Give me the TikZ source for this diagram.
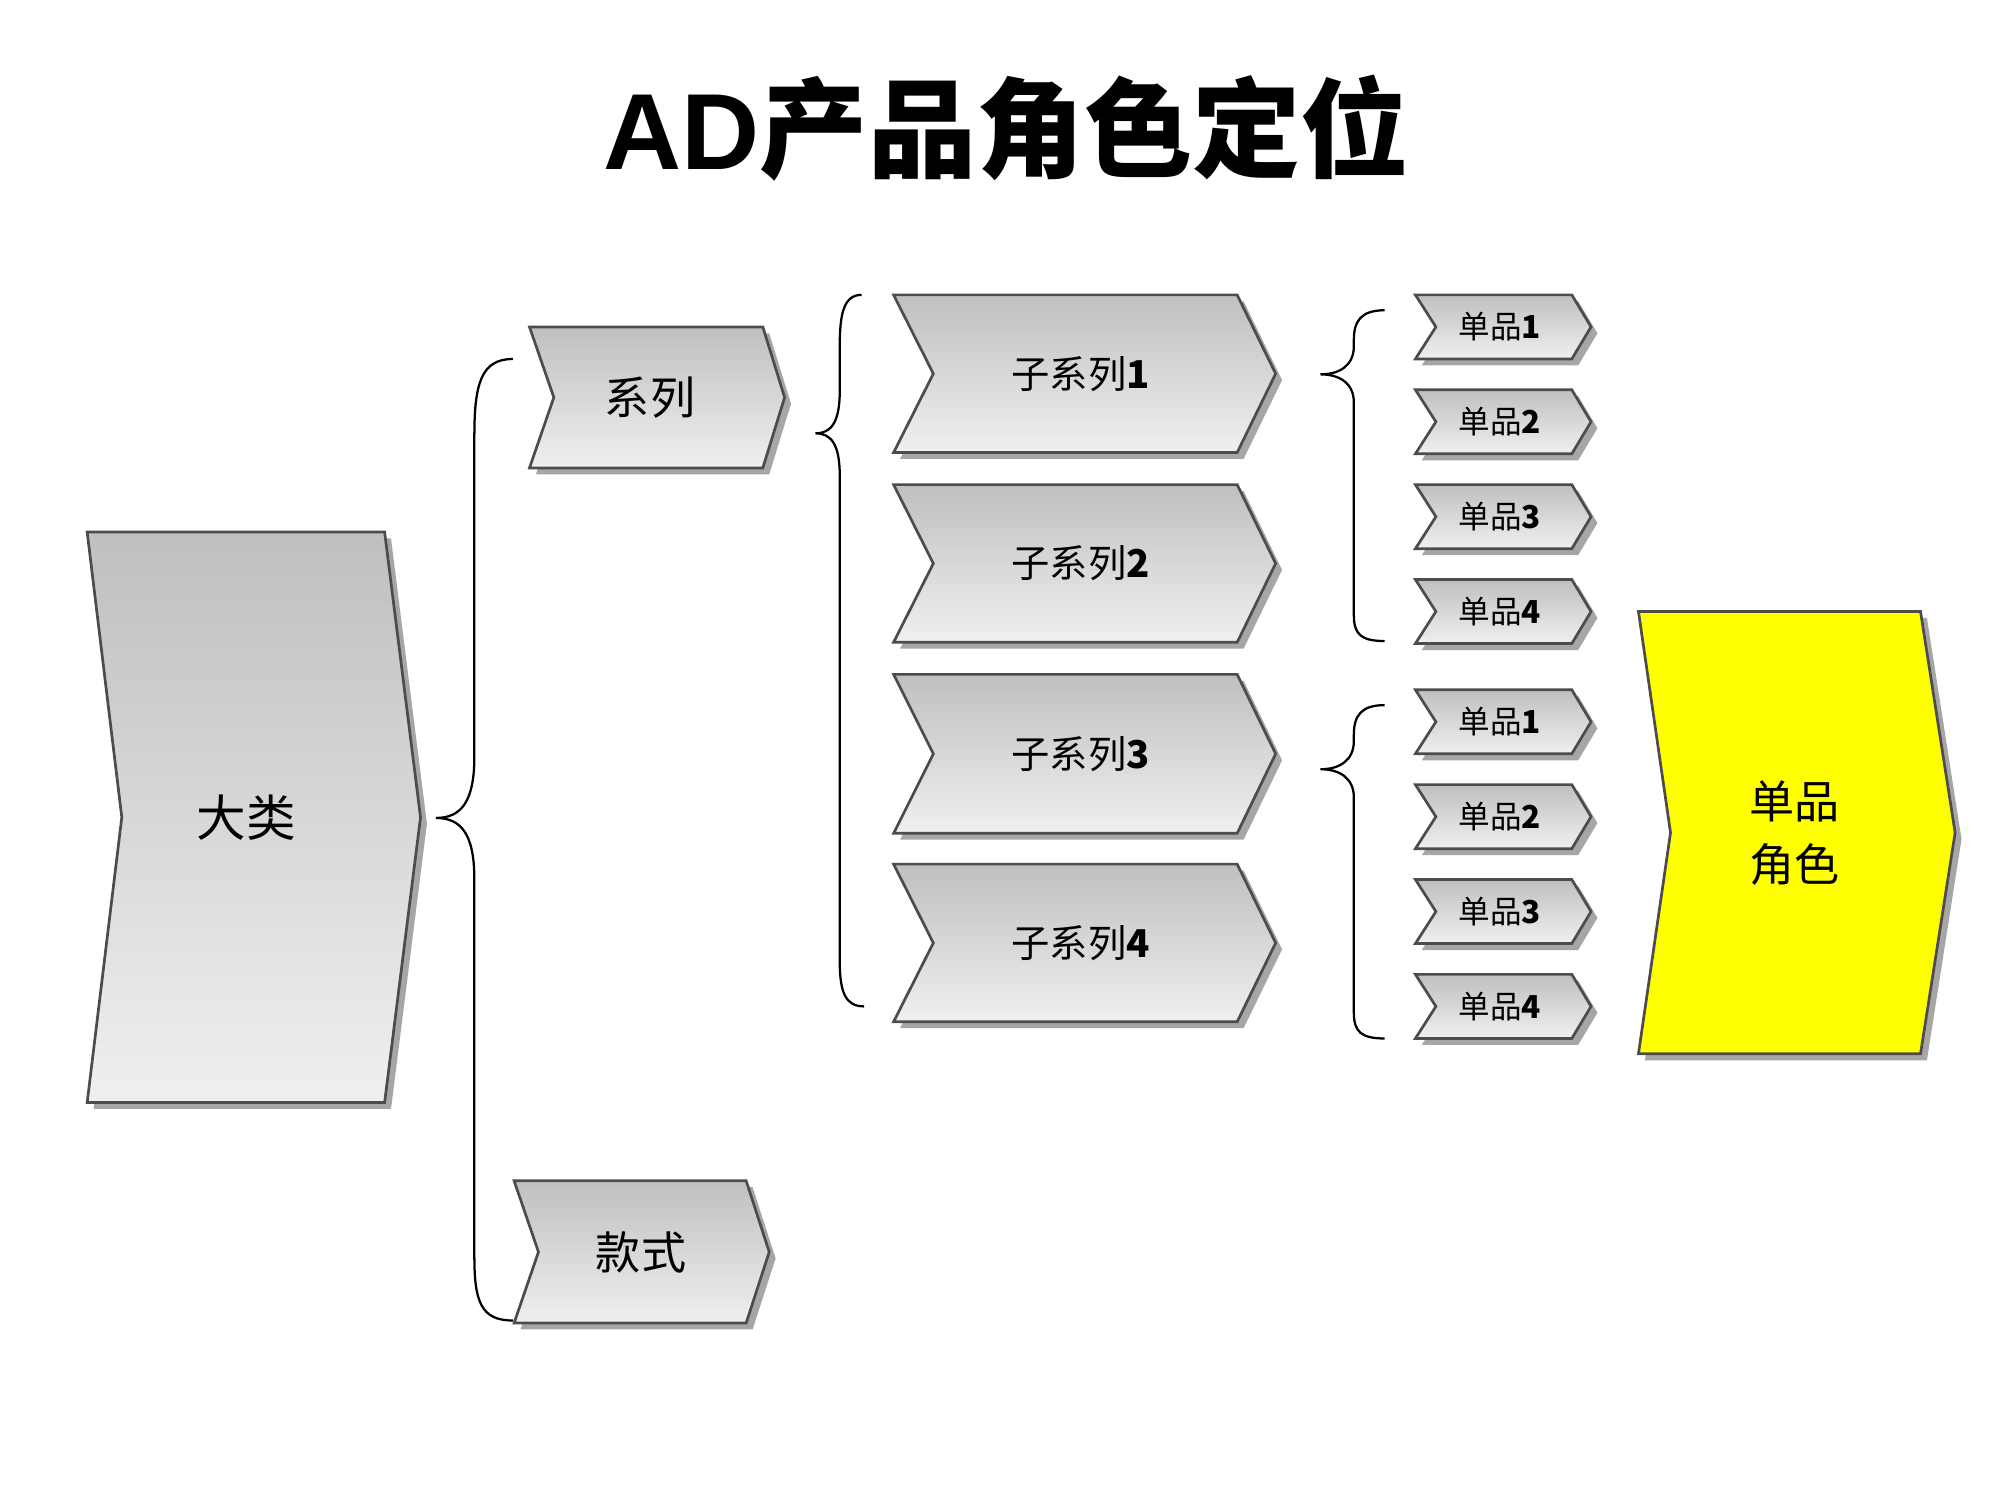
\documentclass[tikz,border=0pt]{standalone}
\usepackage{fontspec}
\setmainfont{Liberation Sans}
\newfontfamily\cjk{Noto Sans CJK SC}
\usetikzlibrary{shadings}
\definecolor{ryellow}{RGB}{255,255,0}
\tikzset{lbl/.style={font=\cjk, text=black, align=center}, brace/.style={draw=black, line width=0.5pt}}
\newcommand\chev[8]{% x1 x2 ytop ybot xpoint xnotch fillstyle name/text
  \pgfmathsetmacro\ymid{(#3+#4)/2}
  \fill[gray!70] ([shift={(5,5)}]#1,#3) -- ([shift={(5,5)}]#2,#3) -- ([shift={(5,5)}]#5,\ymid) -- ([shift={(5,5)}]#2,#4) -- ([shift={(5,5)}]#1,#4) -- ([shift={(5,5)}]#6,\ymid) -- cycle;
  \path[#7, draw=gray!60!black, line width=0.6pt] (#1,#3) -- (#2,#3) -- (#5,\ymid) -- (#2,#4) -- (#1,#4) -- (#6,\ymid) -- cycle;
}
\tikzset{gr/.style={top color=gray!50, bottom color=gray!12}, ye/.style={fill=ryellow}}
\begin{document}
\begin{tikzpicture}[x=0.01cm,y=-0.01cm]
\useasboundingbox (0,0) rectangle (1560,1170);
\node[font=\bfseries\fontsize{24}{28}\selectfont] (title) at (785,100) {AD{\cjk 产品角色定位}};
\chev{68}{300}{415}{860}{328}{95}{gr}{}
\node[lbl, font=\cjk\fontsize{11}{13}\selectfont] (dalei) at (192,638) {大类};
\chev{413}{595}{255}{365}{612}{432}{gr}{}
\node[lbl, font=\cjk\fontsize{10}{12}\selectfont] (xilie) at (507,310) {系列};
\chev{401}{582}{921}{1032}{600}{420}{gr}{}
\node[lbl, font=\cjk\fontsize{10}{12}\selectfont] (kuanshi) at (500,977) {款式};
\foreach \t/\b/\n in {230/353/1,378/501/2,526/650/3,674/797/4}{
  \chev{697}{965}{\t}{\b}{995}{728}{gr}{}
  \node[lbl, font=\cjk\fontsize{8.5}{10}\selectfont] (zx\n) at (843,{(\t+\b)/2}) {子系列\textbf{\n}};
}
\foreach \c/\n/\k in {255/1/a,329/2/b,403/3/c,477/4/d,563/1/e,637/2/f,711/3/g,785/4/h}{
  \chev{1104}{1226}{\c-25}{\c+25}{1241}{1120}{gr}{}
  \node[lbl, font=\cjk\fontsize{7}{8}\selectfont] (dp\k) at (1170,\c) {单品\textbf{\n}};
}
\chev{1278}{1498}{477}{822}{1525}{1303}{ye}{}
\node[lbl, font=\cjk\fontsize{10}{14}\selectfont] (role) at (1400,650) {单品\\角色};
% braces
\draw[brace] (400,280) .. controls (375,280) and (370,300) .. (370,340) -- (370,590) .. controls (370,625) and (360,638) .. (340,638) .. controls (360,638) and (370,651) .. (370,686) -- (370,980) .. controls (370,1015) and (375,1030) .. (400,1030);
\draw[brace] (672,230) .. controls (658,230) and (655,245) .. (655,270) -- (655,305) .. controls (655,330) and (648,338) .. (636,338) .. controls (648,338) and (655,346) .. (655,371) -- (655,750) .. controls (655,775) and (660,785) .. (674,785);
\draw[brace] (1080,242) .. controls (1062,242) and (1056,250) .. (1056,265) -- (1056,270) .. controls (1056,285) and (1045,292) .. (1030,292) .. controls (1045,292) and (1056,299) .. (1056,314) -- (1056,480) .. controls (1056,495) and (1062,500) .. (1080,500);
\draw[brace] (1080,550) .. controls (1062,550) and (1056,558) .. (1056,573) -- (1056,578) .. controls (1056,593) and (1045,600) .. (1030,600) .. controls (1045,600) and (1056,607) .. (1056,622) -- (1056,790) .. controls (1056,805) and (1062,810) .. (1080,810);
\end{tikzpicture}
\end{document}
